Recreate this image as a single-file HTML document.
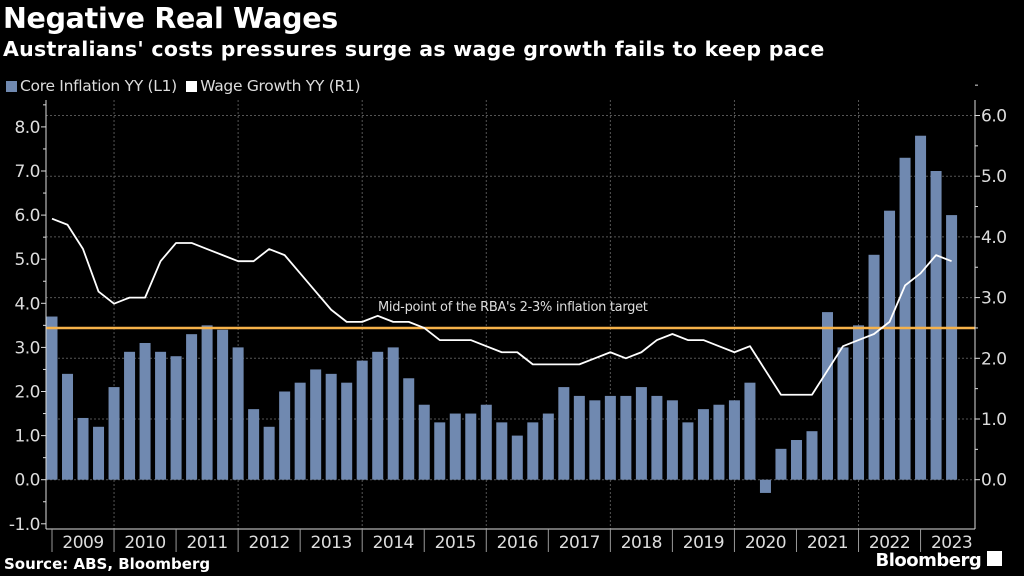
<!DOCTYPE html>
<html><head><meta charset="utf-8"><style>
html,body{margin:0;padding:0;background:#000;}
body{width:1024px;height:576px;overflow:hidden;font-family:"DejaVu Sans","Liberation Sans",sans-serif;color:#fff;position:relative;}
#title{position:absolute;left:3px;top:2px;font-size:28.5px;font-weight:bold;letter-spacing:-0.3px;}
#subtitle{position:absolute;left:3px;top:37px;font-size:20.5px;font-weight:bold;letter-spacing:0.3px;}
#legend{position:absolute;left:6px;top:77px;font-size:15.5px;color:#ddd;letter-spacing:-0.3px;}
.sw{display:inline-block;width:11px;height:11px;margin-right:3px;vertical-align:-1px;}
#source{position:absolute;left:4px;top:555px;font-size:15px;font-weight:bold;}
#brand{position:absolute;right:22px;top:550px;font-size:18px;font-weight:bold;letter-spacing:-0.5px;}
svg{position:absolute;left:0;top:0;}
</style></head><body>
<div id="title">Negative Real Wages</div>
<div id="subtitle">Australians' costs pressures surge as wage growth fails to keep pace</div>
<div id="legend"><span><span class="sw" style="background:#7089b0"></span>Core Inflation YY (L1)</span>&nbsp;&nbsp;<span><span class="sw" style="background:#fff"></span>Wage Growth YY (R1)</span></div>
<div id="source">Source: ABS, Bloomberg</div>
<div id="brand">Bloomberg <span style="display:inline-block;width:13px;height:13px;border:1px solid #fff;background:#fff;vertical-align:0"></span></div>
<svg id="chart" width="1024" height="576"></svg>
<script>
const years = [2009,2010,2011,2012,2013,2014,2015,2016,2017,2018,2019,2020,2021,2022,2023];
const coreInflation = [3.7,2.4,1.4,1.2,2.1,2.9,3.1,2.9,2.8,3.3,3.5,3.4,3.0,1.6,1.2,2.0,2.2,2.5,2.4,2.2,2.7,2.9,3.0,2.3,1.7,1.3,1.5,1.5,1.7,1.3,1.0,1.3,1.5,2.1,1.9,1.8,1.9,1.9,2.1,1.9,1.8,1.3,1.6,1.7,1.8,2.2,-0.3,0.7,0.9,1.1,3.8,3.0,3.5,5.1,6.1,7.3,7.8,7.0,6.0];
const wageGrowth = [4.3,4.2,3.8,3.1,2.9,3.0,3.0,3.6,3.9,3.9,3.8,3.7,3.6,3.6,3.8,3.7,3.4,3.1,2.8,2.6,2.6,2.7,2.6,2.6,2.5,2.3,2.3,2.3,2.2,2.1,2.1,1.9,1.9,1.9,1.9,2.0,2.1,2.0,2.1,2.3,2.4,2.3,2.3,2.2,2.1,2.2,1.8,1.4,1.4,1.4,1.8,2.2,2.3,2.4,2.6,3.2,3.4,3.7,3.6];
const leftTicks = ["-1.0","0.0","1.0","2.0","3.0","4.0","5.0","6.0","7.0","8.0"];
const rightTicks = ["0.0","1.0","2.0","3.0","4.0","5.0","6.0"];
const rbaTarget = 2.5;
const targetLabel = "Mid-point of the RBA's 2-3% inflation target";

const svg = document.getElementById('chart');
const NS = 'http://www.w3.org/2000/svg';
const X0 = 52, STEP = 15.51, PL = 46, PR = 975, PB = 529, PT = 100;
const x = i => X0 + i * STEP;
const yL = v => 479.7 - v * 44.1;
const yR = v => 479.7 - v * 60.7;
function mk(tag, attrs, parent){const e=document.createElementNS(NS,tag);for(const k in attrs)e.setAttribute(k,attrs[k]);(parent||svg).appendChild(e);return e;}

rightTicks.forEach(t=>{const v=parseFloat(t);
  const g=mk('line',{x1:PL,x2:PR,y1:yR(v),y2:yR(v),stroke:'#555','stroke-dasharray':'2,2','stroke-width':1});
  
  
});
years.forEach((yr,k)=>{ if(k%2===1){const gx=X0+k*4*STEP;
  const g=mk('line',{x1:gx,x2:gx,y1:PT,y2:PB,stroke:'#555','stroke-dasharray':'2,2','stroke-width':1});
  
  
}});
coreInflation.forEach((v,i)=>{
  const y1=yL(Math.max(v,0)), y2=yL(Math.min(v,0));
  const b=mk('rect',{x:x(i)-5.5,y:y1,width:11,height:Math.max(y2-y1,0.5),fill:'#7089b0'});
  
  
});
const rl=mk('line',{x1:PL,x2:PR,y1:yR(rbaTarget),y2:yR(rbaTarget),stroke:'#f6b24a','stroke-width':2.5});


const tl=mk('text',{x:378,y:yR(rbaTarget)-17,fill:'#ddd','font-size':'13','letter-spacing':'-0.3'});
tl.textContent=targetLabel;


const wl=mk('polyline',{points:wageGrowth.map((v,i)=>x(i)+','+yR(v)).join(' '),fill:'none',stroke:'#fff','stroke-width':1.8,'stroke-linejoin':'round'});


const la=mk('line',{x1:PL,x2:PL,y1:PT,y2:PB,stroke:'#ddd','stroke-width':1});


const ra=mk('line',{x1:PR,x2:PR,y1:PT,y2:PB,stroke:'#ddd','stroke-width':1});


const ba=mk('line',{x1:PL,x2:PR,y1:PB,y2:PB,stroke:'#ddd','stroke-width':1});


leftTicks.forEach(t=>{const v=parseFloat(t);
  mk('line',{x1:PL-5,x2:PL,y1:yL(v),y2:yL(v),stroke:'#ddd'});
  mk('line',{x1:PL-3,x2:PL,y1:yL(v+0.5),y2:yL(v+0.5),stroke:'#ddd'});
  const tx=mk('text',{x:PL-6,y:yL(v)+6,fill:'#ddd','font-size':'17','text-anchor':'end','letter-spacing':'-0.5'});
  tx.textContent=t;
  
  
});
rightTicks.forEach(t=>{const v=parseFloat(t);
  mk('line',{x1:PR,x2:PR+5,y1:yR(v),y2:yR(v),stroke:'#ddd'});
  mk('line',{x1:PR,x2:PR+3,y1:yR(v+0.5),y2:yR(v+0.5),stroke:'#ddd'});
  const tx=mk('text',{x:PR+6,y:yR(v)+6,fill:'#ddd','font-size':'17','letter-spacing':'-0.5'});
  tx.textContent=t;
  
  
});
years.forEach((yr,k)=>{const gx=X0+k*4*STEP;
  mk('line',{x1:gx,x2:gx,y1:PB,y2:PB+23,stroke:'#999'});
  const tx=mk('text',{x:gx+2*STEP,y:PB+19,fill:'#ddd','font-size':'17','text-anchor':'middle','letter-spacing':'-0.5'});
  tx.textContent=yr;
  
  
});
</script>
</body></html>
